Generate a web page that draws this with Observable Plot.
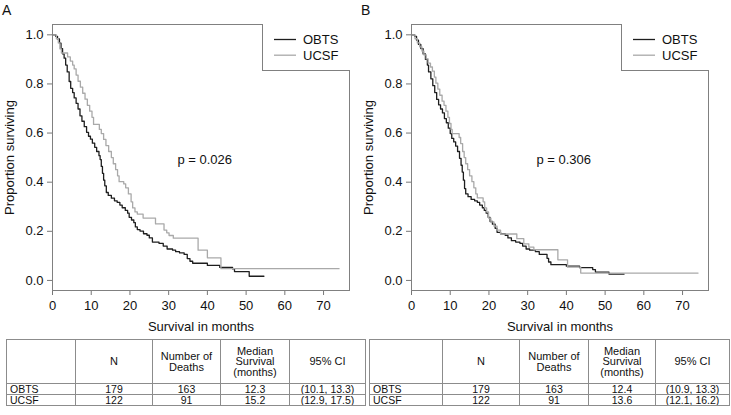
<!DOCTYPE html>
<html><head><meta charset="utf-8">
<script src="https://cdn.jsdelivr.net/npm/d3@7"></script>
<script src="https://cdn.jsdelivr.net/npm/@observablehq/plot@0.6"></script>
<style>
body{margin:0;background:#fff;}
#root{position:relative;width:731px;height:415px;font-family:"Liberation Sans",Arial,Helvetica,sans-serif;color:#111;overflow:hidden;background:#fff}
.plab{position:absolute;font-size:14px;line-height:14px}
.leg{position:absolute;border-left:1px solid #808080;border-bottom:1px solid #808080;box-sizing:border-box;background:#fff}
table.t{position:absolute;border-collapse:collapse;table-layout:fixed;font-size:10.5px;color:#111}
table.t td{border:1px solid #8c8c8c;padding:0;text-align:center;vertical-align:middle;white-space:pre-line;overflow:hidden}
table.t td.first{text-align:left;padding-left:3px}
table.t td.hd{font-size:11px}
</style></head><body><div id="root"></div>
<script>
// ---------- data ----------
const seriesNames = ["OBTS", "UCSF"];
const seriesColors = ["#1e1e1e", "#a9a9a9"];
const xTicks = [0, 10, 20, 30, 40, 50, 60, 70];
const yTicks = [0, 0.2, 0.4, 0.6, 0.8, 1.0];
const xLabel = "Survival in months";
const yLabel = "Proportion surviving";
const panelLabels = ["A", "B"];
const pValues = ["p = 0.026", "p = 0.306"];

// Kaplan-Meier step points [months, proportion surviving]
const obtsA = [[0,1],[0.8,0.994],[1.3,0.983],[1.8,0.966],[2.2,0.944],[2.6,0.922],[3.0,0.905],[3.4,0.877],[3.8,0.849],[4.3,0.810],[4.7,0.782],[5.2,0.765],[5.6,0.743],[6.1,0.721],[6.6,0.698],[7.1,0.670],[7.6,0.648],[8.2,0.626],[8.8,0.603],[9.3,0.587],[9.8,0.575],[10.3,0.559],[10.9,0.542],[11.4,0.525],[12.0,0.508],[12.3,0.492],[12.6,0.464],[12.9,0.436],[13.2,0.408],[13.5,0.385],[13.9,0.358],[14.4,0.346],[15.2,0.335],[16.0,0.324],[16.7,0.318],[17.4,0.307],[18.0,0.296],[18.8,0.285],[19.4,0.274],[19.8,0.257],[20.4,0.246],[21.0,0.235],[21.4,0.218],[21.9,0.207],[22.6,0.201],[23.5,0.190],[24.4,0.184],[25.0,0.173],[25.8,0.156],[27.5,0.151],[28.6,0.140],[29.6,0.128],[31.0,0.123],[31.8,0.117],[32.8,0.112],[34.0,0.106],[34.8,0.089],[35.5,0.078],[36.2,0.070],[40.0,0.061],[43.2,0.053],[46.5,0.047],[47.0,0.036],[50.8,0.017],[54.6,0.017]];
const ucsfA = [[0,1],[1.0,0.984],[1.5,0.967],[1.9,0.943],[2.3,0.926],[3.9,0.910],[4.6,0.893],[5.2,0.877],[5.6,0.861],[6.1,0.836],[6.6,0.811],[7.2,0.787],[7.8,0.762],[8.4,0.738],[9.0,0.713],[9.6,0.689],[10.2,0.664],[10.6,0.635],[12.1,0.615],[12.6,0.598],[13.2,0.574],[13.8,0.549],[14.5,0.525],[15.2,0.500],[15.7,0.475],[16.3,0.451],[16.8,0.426],[17.2,0.402],[18.4,0.393],[18.9,0.377],[19.6,0.352],[20.3,0.320],[20.7,0.295],[21.3,0.279],[21.9,0.270],[23.4,0.254],[26.6,0.230],[28.8,0.205],[29.5,0.194],[30.1,0.183],[31.2,0.172],[37.6,0.123],[40.0,0.092],[43.5,0.048],[74.0,0.048]];
const obtsB = [[0,1],[0.8,0.994],[1.3,0.978],[1.8,0.961],[2.4,0.944],[3.0,0.922],[3.6,0.900],[4.1,0.877],[4.4,0.849],[5.0,0.821],[5.5,0.793],[6.0,0.765],[6.5,0.737],[7.0,0.715],[7.5,0.698],[8.0,0.682],[8.5,0.659],[9.0,0.642],[9.5,0.620],[10.0,0.598],[10.4,0.578],[10.9,0.564],[11.4,0.547],[11.9,0.525],[12.4,0.497],[12.8,0.469],[13.1,0.441],[13.4,0.408],[13.7,0.374],[14.0,0.352],[14.6,0.341],[15.4,0.330],[16.3,0.324],[17.0,0.318],[17.6,0.307],[18.3,0.296],[18.8,0.285],[19.3,0.274],[19.8,0.257],[20.3,0.240],[20.9,0.229],[21.6,0.212],[22.1,0.196],[23.0,0.190],[24.2,0.184],[24.9,0.173],[25.8,0.162],[26.9,0.156],[28.0,0.151],[28.7,0.140],[29.6,0.128],[30.5,0.123],[32.0,0.117],[33.0,0.106],[35.0,0.090],[35.4,0.075],[36.0,0.064],[40.0,0.058],[43.4,0.052],[46.8,0.044],[47.5,0.034],[51.0,0.026],[54.9,0.026]];
const ucsfB = [[0,1],[0.9,0.984],[1.5,0.967],[2.1,0.951],[2.7,0.934],[3.2,0.918],[3.8,0.902],[4.3,0.885],[4.9,0.869],[5.4,0.852],[5.9,0.828],[6.3,0.803],[6.8,0.779],[7.3,0.754],[7.9,0.730],[8.4,0.713],[8.9,0.689],[9.4,0.664],[9.8,0.639],[10.2,0.615],[10.5,0.598],[12.3,0.582],[12.7,0.557],[13.2,0.525],[13.6,0.500],[14.0,0.475],[14.5,0.451],[15.0,0.426],[15.6,0.402],[16.1,0.377],[16.6,0.352],[17.0,0.336],[18.5,0.320],[18.9,0.295],[19.4,0.279],[19.9,0.254],[20.5,0.238],[21.3,0.221],[22.1,0.205],[23.0,0.189],[27.2,0.170],[29.0,0.149],[30.3,0.136],[31.6,0.125],[37.8,0.084],[40.3,0.054],[43.7,0.030],[74.0,0.030]];

// tables
const tableHeader = ["", "N", "Number of\nDeaths", "Median\nSurvival\n(months)", "95% CI"];
const tableRowsA = [["OBTS", "179", "163", "12.3", "(10.1, 13.3)"], ["UCSF", "122", "91", "15.2", "(12.9, 17.5)"]];
const tableRowsB = [["OBTS", "179", "163", "12.4", "(10.9, 13.3)"], ["UCSF", "122", "91", "13.6", "(12.1, 16.2)"]];

// ---------- drawing ----------
const root = document.getElementById("root");
const FONT = '"Liberation Sans", Arial, Helvetica, sans-serif';

function rows(name, pts) { return pts.map(([t, s]) => ({group: name, t, s})); }

function panel(obts, ucsf, pLabel) {
  const data = rows(seriesNames[0], obts).concat(rows(seriesNames[1], ucsf));
  return Plot.plot({
    width: 365, height: 335,
    marginLeft: 52, marginRight: 16, marginTop: 24, marginBottom: 45,
    x: {domain: [0, 76.7]},
    y: {domain: [-0.041, 1.042]},
    color: {domain: seriesNames, range: seriesColors},
    style: {fontFamily: FONT, fontSize: "13px", color: "#111", background: "transparent", overflow: "visible"},
    marks: [
      Plot.axisX({ticks: xTicks, tickSize: 5, tickPadding: 5, stroke: "#777", fill: "#111", label: null, fontSize: 13}),
      Plot.axisY({ticks: yTicks, tickSize: 5, tickPadding: 4, stroke: "#777", fill: "#111", label: null, tickFormat: d => d.toFixed(1), fontSize: 13}),
      Plot.line(data, {x: "t", y: "s", z: "group", stroke: "group", curve: "step-after", strokeWidth: 1.3}),
      Plot.frame({stroke: "#808080"}),
      Plot.text([pLabel], {x: () => 39.3, y: () => 0.49, text: d => d, textAnchor: "middle", fontSize: 13, fill: "#111"}),
      Plot.text([xLabel], {frameAnchor: "bottom", dy: 36, text: d => d, textAnchor: "middle", lineAnchor: "middle", fontSize: 13, fill: "#111"}),
      Plot.text([yLabel], {frameAnchor: "left", dx: -43, rotate: -90, text: d => d, textAnchor: "middle", lineAnchor: "middle", fontSize: 13, fill: "#111"})
    ]
  });
}

function place(el, left, top) {
  el.style.position = "absolute"; el.style.left = left + "px"; el.style.top = top + "px";
  root.appendChild(el);
}

function legend(offset) {
  const d = document.createElement("div");
  d.className = "leg";
  d.style.left = (offset + 262) + "px"; d.style.top = "24px";
  d.style.width = "88px"; d.style.height = "47px";
  const ns = "http://www.w3.org/2000/svg";
  const svg = document.createElementNS(ns, "svg");
  svg.setAttribute("width", 87); svg.setAttribute("height", 46);
  svg.style.position = "absolute"; svg.style.left = "0"; svg.style.top = "0";
  seriesNames.forEach((n, i) => {
    const y = 15.5 + i * 15.7;
    const ln = document.createElementNS(ns, "line");
    ln.setAttribute("x1", 11); ln.setAttribute("x2", 33);
    ln.setAttribute("y1", y); ln.setAttribute("y2", y);
    ln.setAttribute("stroke", seriesColors[i]); ln.setAttribute("stroke-width", 1.3);
    svg.appendChild(ln);
    const tx = document.createElementNS(ns, "text");
    tx.setAttribute("x", 40); tx.setAttribute("y", y);
    tx.setAttribute("dy", "0.35em");
    tx.setAttribute("font-family", FONT); tx.setAttribute("font-size", 13); tx.setAttribute("fill", "#111");
    tx.textContent = n;
    svg.appendChild(tx);
  });
  d.appendChild(svg);
  root.appendChild(d);
}

function table(rowsData, left, widths) {
  const t = document.createElement("table");
  t.className = "t";
  t.style.left = left + "px"; t.style.top = "339px";
  t.style.width = widths.reduce((a, b) => a + b, 0) + "px";
  const cg = document.createElement("colgroup");
  widths.forEach(w => { const c = document.createElement("col"); c.style.width = w + "px"; cg.appendChild(c); });
  t.appendChild(cg);
  const hr = document.createElement("tr");
  tableHeader.forEach((h, i) => {
    const td = document.createElement("td");
    td.className = "hd";
    td.textContent = h; td.style.lineHeight = "10.5px"; td.style.height = "43px";
    hr.appendChild(td);
  });
  t.appendChild(hr);
  rowsData.forEach(r => {
    const tr = document.createElement("tr");
    r.forEach((v, i) => {
      const td = document.createElement("td");
      td.textContent = v; td.style.height = "10px"; td.style.lineHeight = "10px";
      if (i === 0) td.className = "first";
      tr.appendChild(td);
    });
    t.appendChild(tr);
  });
  root.appendChild(t);
}

place(panel(obtsA, ucsfA, pValues[0]), 0, 0);
place(panel(obtsB, ucsfB, pValues[1]), 359, 0);
legend(0); legend(359);

panelLabels.forEach((l, i) => {
  const d = document.createElement("div");
  d.className = "plab"; d.textContent = l;
  d.style.left = (i === 0 ? 2 : 361) + "px"; d.style.top = "3px";
  root.appendChild(d);
});

table(tableRowsA, 6, [69, 77, 68, 69, 76]);
table(tableRowsB, 369, [73, 77, 69, 67, 74]);
</script></body></html>
